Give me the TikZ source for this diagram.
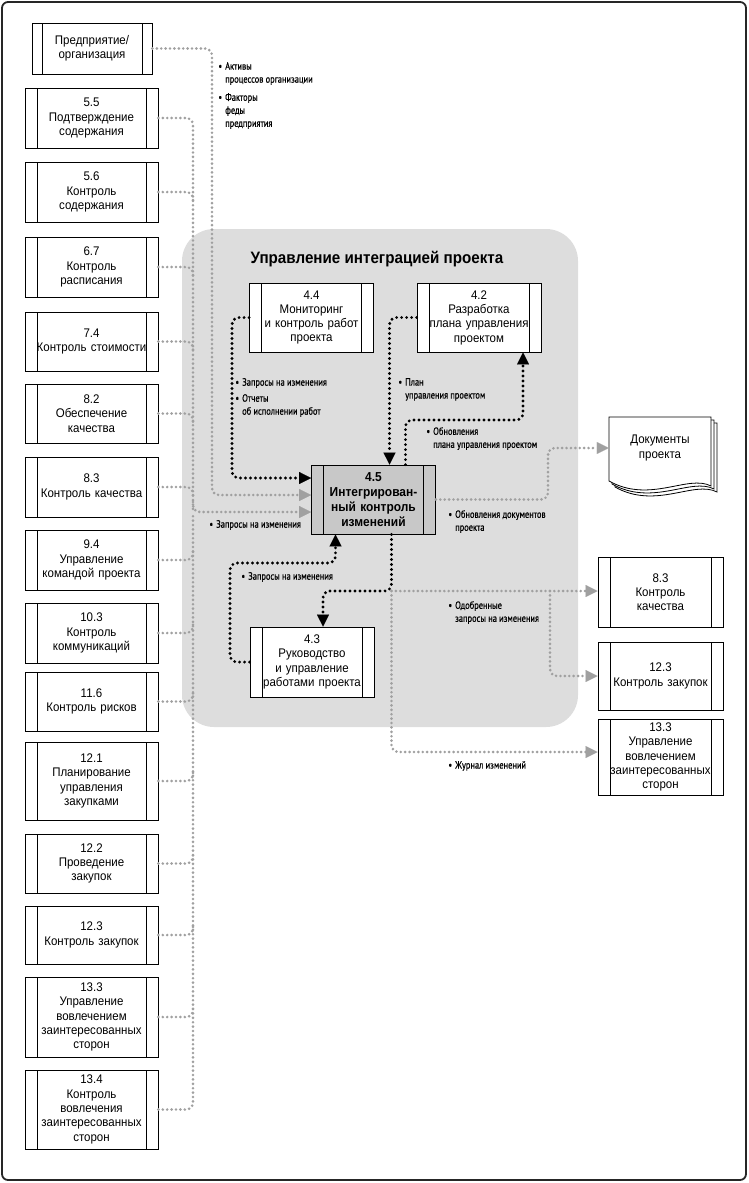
\documentclass[tikz,border=0pt]{standalone}
\usepackage{fontspec}
\setmainfont{Liberation Sans}[FakeStretch=0.92]
\newfontfamily\narrowfam[FakeStretch=0.8, FakeBold=0.6]{PT Sans}
\usetikzlibrary{arrows.meta,calc}

\definecolor{groupgray}{RGB}{221,221,221}
\definecolor{boxgray}{RGB}{200,200,200}
\definecolor{flowgray}{RGB}{160,160,160}

\newcommand{\itm}{\llap{\textbullet\hspace{3pt}}}

\begin{document}
\begin{tikzpicture}[
    x=1pt, y=-1pt,
    base/.style={draw, line width=0.8pt, fill=white, align=center, inner sep=0pt, font=\fontsize{12.5}{14.3}\selectfont},
    sidebars/.style={path picture={
        \draw[line width=0.8pt] ([xshift=#1]path picture bounding box.north west) -- ([xshift=#1]path picture bounding box.south west)
          ([xshift=-#1]path picture bounding box.north east) -- ([xshift=-#1]path picture bounding box.south east);}},
    process/.style={base, sidebars=12pt, minimum width=133pt, text width=122pt},
    process-inner/.style={base, sidebars=12pt, minimum width=124pt, text width=114pt},
    process-main/.style={process-inner, fill=boxgray, font=\bfseries\fontsize{13}{15}\selectfont},
    note/.style={anchor=north west, align=left, inner sep=0pt, font=\narrowfam\fontsize{10.5}{13}\selectfont},
    flow-gray/.style={draw=flowgray, line width=2.9pt, line cap=round, dash pattern=on 0pt off 4.4pt, rounded corners=7pt},
    flow-black/.style={draw=black, line width=3.2pt, line cap=round, dash pattern=on 0pt off 5pt, rounded corners=7pt},
    tip/.style={-{Triangle[length=12pt, width=12pt, line width=0.1pt]}},
  ]
  \useasboundingbox (0,0) rectangle (748,1183);

  % frame and process group
  \draw[line width=1.8pt, black!85, rounded corners=6pt] (2,2) rectangle (746,1180);
  \fill[groupgray, rounded corners=32pt] (182,229) rectangle (578,727);
  \node[font=\bfseries\fontsize{16.5}{18}\selectfont] (title) at (377,259) {Управление интеграцией проекта};

  % inputs on the left
  \node[base, sidebars=10pt, minimum width=120pt, minimum height=51pt, text width=104pt] (ent) at (92,48.5) {Предприятие/\\организация};
  \node[process, minimum height=60pt] (b55)  at (91.5,118)    {5.5\\Подтверждение\\содержания};
  \node[process, minimum height=60pt] (b56)  at (91.5,192)    {5.6\\Контроль\\содержания};
  \node[process, minimum height=60pt] (b67)  at (91.5,267)    {6.7\\Контроль\\расписания};
  \node[process, minimum height=59pt] (b74)  at (91.5,341.5)  {7.4\\Контроль стоимости};
  \node[process, minimum height=59pt] (b82)  at (91.5,413.5)  {8.2\\Обеспечение\\качества};
  \node[process, minimum height=60pt] (b83)  at (91.5,487)    {8.3\\Контроль качества};
  \node[process, minimum height=60pt] (b94)  at (91.5,560)    {9.4\\Управление\\командой проекта};
  \node[process, minimum height=60pt] (b103) at (91.5,633)    {10.3\\Контроль\\коммуникаций};
  \node[process, minimum height=59pt] (b116) at (91.5,701.5)  {11.6\\Контроль рисков};
  \node[process, minimum height=78pt] (b121) at (91.5,781)    {12.1\\Планирование\\управления\\закупками};
  \node[process, minimum height=59pt] (b122) at (91.5,863.5)  {12.2\\Проведение\\закупок};
  \node[process, minimum height=58pt] (b123) at (91.5,935)    {12.3\\Контроль закупок};
  \node[process, minimum height=80pt] (b133) at (91.5,1017)   {13.3\\Управление\\вовлечением\\заинтересованных\\сторон};
  \node[process, minimum height=79pt] (b134) at (91.5,1109.5) {13.4\\Контроль\\вовлечения\\заинтересованных\\сторон};

  % integration processes
  \node[process-inner, minimum height=69pt] (n44) at (311.5,317.5) {4.4\\Мониторинг\\и контроль работ\\проекта};
  \node[process-inner, minimum height=69pt] (n42) at (479,317.5)   {4.2\\Разработка\\плана управления\\проектом};
  \node[process-main,  minimum height=69pt] (n45) at (373.5,499.5) {4.5\\Интегрирован-\\ный контроль\\изменений};
  \node[process-inner, minimum height=70pt] (n43) at (312,662)     {4.3\\Руководство\\и управление\\работами проекта};

  % outputs on the right
  \foreach \o in {6,3,0}
    \draw[line width=0.8pt, fill=white] (609+\o,417+\o) -- (711+\o,417+\o) -- (711+\o,486+\o)
      .. controls (688+\o,474+\o) and (650+\o,504+\o) .. (609+\o,481+\o) -- cycle;
  \node[align=center, inner sep=0pt, minimum width=102pt, minimum height=60pt, font=\fontsize{12.5}{14.3}\selectfont] (docs) at (660,448) {Документы\\проекта};
  \node[process, minimum width=125pt, text width=114pt, minimum height=70pt] (r83)  at (660.5,592) {8.3\\Контроль\\качества};
  \node[process, minimum width=125pt, text width=114pt, minimum height=68pt] (r123) at (660.5,676) {12.3\\Контроль закупок};
  \node[process, minimum width=125pt, text width=114pt, minimum height=76pt] (r133) at (660.5,757) {13.3\\Управление\\вовлечением\\заинтересованных\\сторон};

  % bend points
  \coordinate (busA) at (212,495);
  \coordinate (busB) at (193,512);
  \coordinate (bend44) at (232,478);
  \coordinate (bend42) at (523,420);
  \coordinate (bend43) at (230,563);
  \coordinate (split45) at (391.5,591);
  \coordinate (split83) at (550,591);
  \coordinate (bendDocs) at (548,448);

  % gray flows
  \draw[flow-gray, tip] (ent.east) -| (busA) -- (busA -| n45.west);
  \draw[flow-gray] (b55.east) -| (busB);
  \draw[flow-gray] (b134.east) -| (busB);
  \draw[flow-gray, tip] ($(busB)+(0,-10)$) |- (busB -| n45.west);
  \draw[flow-gray] (b56.east)  -| ($(b56.east -| busB)+(0,9)$);
  \draw[flow-gray] (b67.east)  -| ($(b67.east -| busB)+(0,9)$);
  \draw[flow-gray] (b74.east)  -| ($(b74.east -| busB)+(0,9)$);
  \draw[flow-gray] (b82.east)  -| ($(b82.east -| busB)+(0,9)$);
  \draw[flow-gray] (b83.east)  -| ($(b83.east -| busB)+(0,9)$);
  \draw[flow-gray] (b94.east)  -| ($(b94.east -| busB)+(0,-9)$);
  \draw[flow-gray] (b103.east) -| ($(b103.east -| busB)+(0,-9)$);
  \draw[flow-gray] (b116.east) -| ($(b116.east -| busB)+(0,-9)$);
  \draw[flow-gray] (b121.east) -| ($(b121.east -| busB)+(0,-9)$);
  \draw[flow-gray] (b122.east) -| ($(b122.east -| busB)+(0,-9)$);
  \draw[flow-gray] (b123.east) -| ($(b123.east -| busB)+(0,-9)$);
  \draw[flow-gray] (b133.east) -| ($(b133.east -| busB)+(0,-9)$);
  \draw[flow-gray, tip] (n45.east) -| (bendDocs) -- (docs.west);
  \draw[flow-gray, tip] (split45) -- (split45 -| r83.west);
  \draw[flow-gray, tip] (split83) |- (r123.west);
  \draw[flow-gray, tip] (split45) |- ([yshift=5pt]r133.west);

  % black flows
  \draw[flow-black, tip] (n44.west) -| (bend44) -- (bend44 -| n45.west);
  \draw[flow-black, tip] (n42.west) -| ([xshift=16pt]n45.north);
  \draw[flow-black, tip] ([xshift=32pt]n45.north) |- (bend42) -- (bend42 |- n42.south);
  \draw[flow-black, tip] (n43.west) -| (bend43) -| ([xshift=-38pt]n45.south);
  \draw[flow-black, tip] ([xshift=18pt]n45.south) -- (split45) -| ([xshift=11pt]n43.north);

  % flow labels
  \node[note] (notA1)   at (225,62)  {\itm Активы\\процессов организации};
  \node[note] (notA2)   at (225,93)  {\itm Факторы\\феды\\предприятия};
  \node[note] (not44a)  at (242,378) {\itm Запросы на изменения};
  \node[note] (not44b)  at (242,394) {\itm Отчеты\\об исполнении работ};
  \node[note] (not42a)  at (405,378) {\itm План\\управления проектом};
  \node[note] (not42b)  at (433,427) {\itm Обновления\\плана управления проектом};
  \node[note] (not45)   at (216,520) {\itm Запросы на изменения};
  \node[note] (notDocs) at (455,510) {\itm Обновления документов\\проекта};
  \node[note] (not43)   at (248,572) {\itm Запросы на изменения};
  \node[note] (notAppr) at (455,601) {\itm Одобренные\\запросы на изменения};
  \node[note] (notLog)  at (455,761) {\itm Журнал изменений};

\end{tikzpicture}
\end{document}
